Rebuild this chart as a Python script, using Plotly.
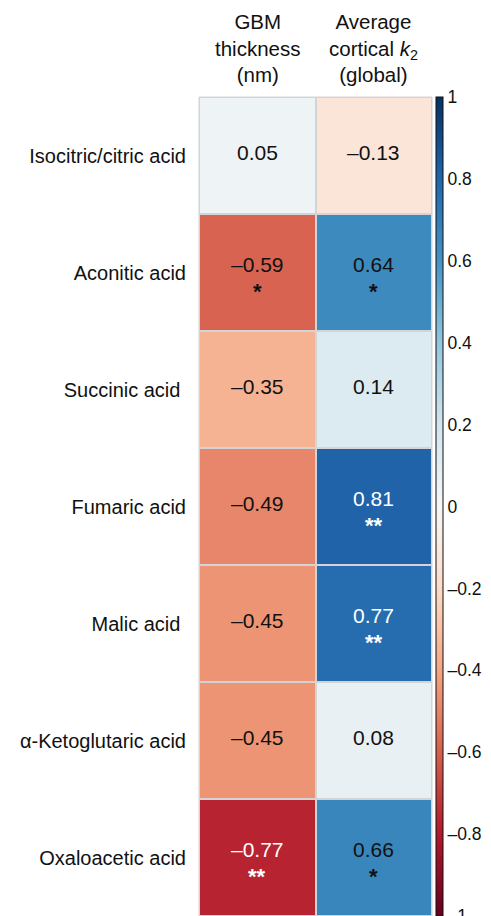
import plotly.graph_objects as go

# Correlations of TCA-cycle metabolites with kidney measures
metabolites = [
    "Isocitric/citric acid",
    "Aconitic acid",
    "Succinic acid\u00a0",
    "Fumaric acid",
    "Malic acid\u00a0",
    "\u03b1-Ketoglutaric acid",
    "Oxaloacetic acid",
]
measures = ["GBM thickness", "Average cortical k2"]
headers = ["GBM<br>thickness<br>(nm)", "Average<br>cortical <i>k</i><sub>2</sub><br>(global)"]

gbm_r = [0.05, -0.59, -0.35, -0.49, -0.45, -0.45, -0.77]
k2_r = [-0.13, 0.64, 0.14, 0.81, 0.77, 0.08, 0.66]
gbm_sig = ["", "*", "", "", "", "", "**"]
k2_sig = ["", "*", "", "**", "**", "", "*"]

cbar_vals = [1, 0.8, 0.6, 0.4, 0.2, 0, -0.2, -0.4, -0.6, -0.8, -1]

rdbu = ['rgb(103,0,31)', 'rgb(178,24,43)', 'rgb(214,96,77)', 'rgb(244,165,130)',
        'rgb(253,219,199)', 'rgb(247,247,247)', 'rgb(209,229,240)', 'rgb(146,197,222)',
        'rgb(67,147,195)', 'rgb(33,102,172)', 'rgb(5,48,97)']
colorscale = [[i / (len(rdbu) - 1), c] for i, c in enumerate(rdbu)]

FONT = "Liberation Sans, Arial, Helvetica, sans-serif"


def fmt(v):
    s = f"{abs(v):.2f}"
    return ("\u2013" + s) if v < 0 else s


def fmt_tick(v):
    if v == 0:
        return "0"
    s = f"{abs(v):g}"
    return ("\u2013" + s) if v < 0 else s


z = [[g, k] for g, k in zip(gbm_r, k2_r)]

fig = go.Figure(go.Heatmap(
    z=z,
    x=measures,
    y=metabolites,
    zmin=-1, zmax=1,
    colorscale=colorscale,
    xgap=2, ygap=2,
    hoverinfo="skip",
    colorbar=dict(
        x=1.017, xanchor="left", xpad=0,
        y=0.5, yanchor="middle", len=1, lenmode="fraction", ypad=0,
        thickness=7,
        outlinewidth=1, outlinecolor="#111111",
        tickvals=cbar_vals,
        ticktext=[fmt_tick(v) for v in cbar_vals],
        ticks="",
        ticklabeloverflow="allow",
        tickfont=dict(family=FONT, size=17.5, color="#111111"),
    ),
))

annotations = []
for ci, (vals, sigs) in enumerate([(gbm_r, gbm_sig), (k2_r, k2_sig)]):
    for ri, (v, s) in enumerate(zip(vals, sigs)):
        color = "white" if abs(v) >= 0.7 else "#111111"
        annotations.append(dict(
            x=measures[ci], y=metabolites[ri], xref="x", yref="y",
            text=fmt(v), showarrow=False,
            yshift=8 if s else 3,
            font=dict(family=FONT, size=21, color=color),
        ))
        if s:
            annotations.append(dict(
                x=measures[ci], y=metabolites[ri], xref="x", yref="y",
                text="<b>" + s + "</b>", showarrow=False,
                yshift=-19,
                font=dict(family=FONT, size=22, color=color),
            ))

for ci, h in enumerate(headers):
    annotations.append(dict(
        x=measures[ci], y=1, xref="x", yref="paper",
        yanchor="bottom", yshift=9,
        text=h, showarrow=False,
        font=dict(family=FONT, size=20.5, color="#111111"),
    ))

fig.update_layout(
    width=491, height=916,
    margin=dict(l=199, r=59, t=97, b=0),
    paper_bgcolor="white",
    plot_bgcolor="#d4d4d4",
    annotations=annotations,
    shapes=[dict(type="rect", xref="paper", yref="paper", x0=0, x1=1, y0=0, y1=1,
                 line=dict(color="#d4d4d4", width=1))],
    xaxis=dict(showticklabels=False, showgrid=False, zeroline=False, ticks=""),
    yaxis=dict(autorange="reversed", showgrid=False, zeroline=False, ticks="",
               ticklabelstandoff=12,
               tickfont=dict(family=FONT, size=20, color="#111111")),
)

fig.write_html("out.html")
